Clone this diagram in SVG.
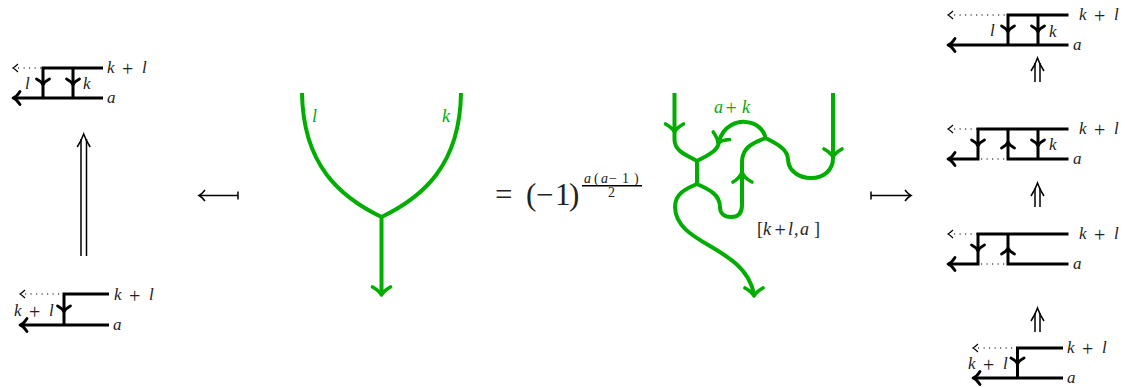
<svg xmlns="http://www.w3.org/2000/svg" width="1125" height="388" viewBox="0 0 1125 388">
<style>
text{font-family:"Liberation Serif","Times New Roman",serif;fill:#222}
.m{font-style:italic;font-size:17px}
.u{font-style:normal}
.p{font-style:normal;font-size:20px}
.b{fill:none;stroke:#000;stroke-width:3}
.d{fill:none;stroke:#000;stroke-width:1.200;stroke-dasharray:1.200 4.300}
.h{fill:none;stroke:#000;stroke-width:2.800;stroke-linecap:round;stroke-linejoin:round}
.t{fill:none;stroke:#000;stroke-width:1.500}
.g{fill:none;stroke:#00ad00;stroke-width:4;stroke-linejoin:round}
.gh{fill:none;stroke:#00ad00;stroke-width:3.600;stroke-linecap:round;stroke-linejoin:round}
.gt{fill:#00ad00;font-style:italic;font-size:18px}
</style>
<defs>
<path id="dn" class="h" d="M-6.500,-6 Q-1.500,-3.500 0,0 Q1.500,-3.500 6.500,-6"/>
<path id="up" class="h" d="M-6.500,6 Q-1.500,3.500 0,0 Q1.500,3.500 6.500,6"/>
<path id="lf" class="h" d="M6,-6.500 Q3,-1.500 -1,0 Q3,1.500 6,6.500"/>
<path id="sl" fill="none" stroke="#000" stroke-width="1.100" d="M5,-4 Q2,-1 0,0 Q2,1 5,4"/>
<path id="gd" class="gh" d="M-9,-8 Q-2,-4 0,0 Q2,-4 9,-8"/>
<path id="dbl" fill="none" stroke="#000" stroke-width="1.500" d="M-6.500,13 Q-2,6 0,0 Q2,6 6.500,13"/>
</defs>

<g id="left-top">
<path class="d" d="M18,68H43"/><use href="#sl" x="13" y="68"/>
<path class="b" d="M103,68H43V98M73,68V98M103,98H15"/>
<use href="#lf" x="14" y="98"/><use href="#dn" x="43" y="85"/><use href="#dn" x="73" y="85"/>
<text class="m" x="107 122 142" y="73 75.500 73">k<tspan class="p">+</tspan>l</text>
<text class="m" x="107" y="103">a</text>
<text class="m" x="25" y="89">l</text>
<text class="m" x="83" y="89">k</text>
</g>

<g id="left-bottom">
<path class="d" d="M25,294H63"/><use href="#sl" x="20" y="294"/>
<path class="b" d="M109,294H64V325M109,325H22"/>
<use href="#lf" x="21" y="325"/><use href="#dn" x="64" y="312"/>
<text class="m" x="114 129 149" y="300 302.500 300">k<tspan class="p">+</tspan>l</text>
<text class="m" x="113" y="330">a</text>
<text class="m" x="14 29 49" y="316 318.500 316">k<tspan class="p">+</tspan>l</text>
</g>

<g id="center-fork">
<path class="g" d="M302,93C303,165 340,197 381.500,217C423,197 460,165 461,93M381.500,217V295"/>
<use href="#gd" x="381.500" y="295"/>
<text class="gt" x="312" y="122">l</text>
<text class="gt" x="442" y="122">k</text>
</g>

<g id="equation">
<text x="495 526 536 555 569" y="205" font-size="31" class="u">=(−1)</text>
<text class="m" x="584 594 601 609 622 634" y="183" style="font-size:14px">a<tspan class="u">(</tspan>a<tspan class="u">−1)</tspan></text>
<rect x="582" y="185" width="60" height="1.500" fill="#000"/>
<text x="608" y="197" style="font-size:14px">2</text>
</g>

<g id="right-web">
<path class="g" d="M674.500,93V140C675,152 687,155 697,161C708,155 718,151 719,142C723,125 738,121 746,122C757,123 764,130 765.500,138C777,144 788,149 788,160C789,172 800,178 811,178C824,178 833,170 833,158V93"/>
<path class="g" d="M697,161V184"/>
<path class="g" d="M765.500,138C752,143 742,148 742,162V205C742,213 738,217 731,217C724,217 720,213 720,207C720,194 708,189 697,184C685,189 675,194 675,207C676,246 744,245 754,294"/>
<use href="#gd" x="674.500" y="132"/>
<use href="#gd" x="833" y="157"/>
<use href="#gd" x="754" y="296"/>
<use href="#gd" transform="translate(718,143) rotate(25)"/>
<path class="gh" d="M733,182Q740,178 742,172Q744,178 752,182"/>
<text class="gt" x="714 725.500 742" y="113 115 113">a<tspan class="p" style="fill:#00ad00">+</tspan>k</text>
<text class="m" x="757 763 774.500 788 794 800 814" y="235 235 237 235 235 235 235" style="font-size:18px"><tspan class="u">[</tspan>k<tspan class="p">+</tspan>l,a<tspan class="u">]</tspan></text>
</g>

<g id="right-1">
<path class="d" d="M954,15H1008"/><use href="#sl" x="948" y="15"/>
<path class="b" d="M1068.500,15H1008V45M1038,15V45M1068.500,45H950"/>
<use href="#lf" x="949" y="45"/><use href="#dn" x="1008" y="32"/><use href="#dn" x="1038" y="32"/>
<text class="m" x="1079 1094 1114" y="20 22.500 20">k<tspan class="p">+</tspan>l</text>
<text class="m" x="1073" y="50">a</text>
<text class="m" x="990" y="36">l</text>
<text class="m" x="1049" y="37">k</text>
</g>

<g id="right-2">
<path class="d" d="M954,129H978M981,159H1008"/><use href="#sl" x="948" y="129"/>
<path class="b" d="M1068.500,129H978V159H950M1008,129V159H1068.500M1038,129V159"/>
<use href="#lf" x="949" y="159"/><use href="#dn" x="978" y="146"/><use href="#up" x="1008" y="142"/><use href="#dn" x="1038" y="146"/>
<text class="m" x="1079 1094 1114" y="134 136.500 134">k<tspan class="p">+</tspan>l</text>
<text class="m" x="1073" y="164">a</text>
<text class="m" x="1049" y="150">k</text>
</g>

<g id="right-3">
<path class="d" d="M954,234H978M981,264H1008"/><use href="#sl" x="948" y="234"/>
<path class="b" d="M1068.500,234H978V264H950M1008,234V264H1068.500"/>
<use href="#lf" x="949" y="264"/><use href="#dn" x="978" y="251"/><use href="#up" x="1008" y="248"/>
<text class="m" x="1079 1094 1114" y="239 241.500 239">k<tspan class="p">+</tspan>l</text>
<text class="m" x="1073" y="269">a</text>
</g>

<g id="right-4">
<path class="d" d="M978,348H1017"/><use href="#sl" x="973" y="348"/>
<path class="b" d="M1063,348H1017.500V378M1063,378H975"/>
<use href="#lf" x="974" y="378"/><use href="#dn" x="1017.500" y="364"/>
<text class="m" x="1067 1082 1102" y="353 355.500 353">k<tspan class="p">+</tspan>l</text>
<text class="m" x="1067" y="383">a</text>
<text class="m" x="968 983 1003" y="369 371.500 369">k<tspan class="p">+</tspan>l</text>
</g>

<g id="connectors">
<path class="t" d="M81,256V139M86.500,256V139"/><use href="#dbl" x="83.700" y="134"/>
<path class="t" d="M1035,82V63M1040,82V63"/><use href="#dbl" x="1037.500" y="58"/>
<path class="t" d="M1035,207V188M1040,207V188"/><use href="#dbl" x="1037.500" y="183"/>
<path class="t" d="M1035,332V313M1040,332V313"/><use href="#dbl" x="1037.500" y="308"/>
<path class="t" d="M200,195.500H238M238,191.500V199.500"/><path class="t" d="M205,190Q202,194 199,195.500Q202,197 205,201"/>
<path class="t" d="M871,195.500H910M871,191.500V199.500"/><path class="t" d="M905,190Q908,194 911,195.500Q908,197 905,201"/>
</g>
</svg>
